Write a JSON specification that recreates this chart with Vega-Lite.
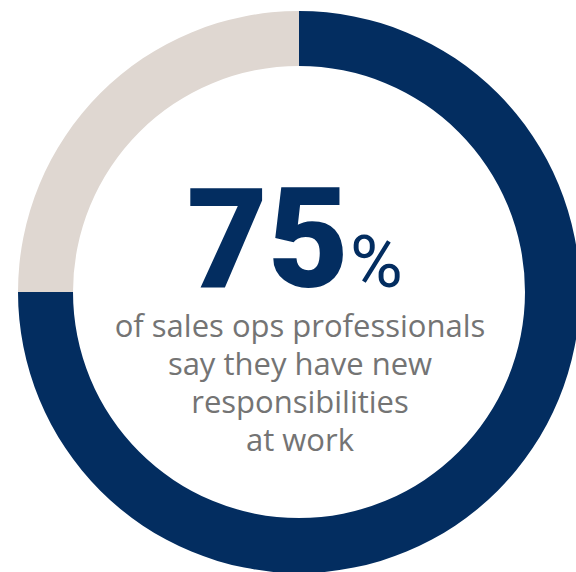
{
  "$schema": "https://vega.github.io/schema/vega-lite/v6.json",
  "autosize": {"type": "none"},
  "width": 554,
  "height": 560,
  "padding": {"left": 22, "top": 12, "right": 0, "bottom": 0},
  "background": "white",
  "config": {"view": {"stroke": null}},
  "layer": [
    {
      "data": {"values": [
        {"segment": "Have new responsibilities", "share": 75, "ord": 1},
        {"segment": "Other", "share": 25, "ord": 2}
      ]},
      "mark": {"type": "arc", "outerRadius": 281, "innerRadius": 226},
      "encoding": {
        "theta": {"field": "share", "type": "quantitative", "stack": true},
        "order": {"field": "ord", "type": "quantitative"},
        "color": {
          "field": "segment", "type": "nominal",
          "scale": {"domain": ["Have new responsibilities", "Other"], "range": ["#032D60", "#DFD7D1"]},
          "legend": null
        }
      }
    },
    {
      "data": {"values": [{"big": "75", "pct": "%", "body": "of sales ops professionals\nsay they have new\nresponsibilities\nat work"}]},
      "layer": [
        {
          "mark": {"type": "text", "font": "Roboto", "fontWeight": 900, "fontSize": 140, "color": "#032D60", "align": "right", "baseline": "alphabetic", "dx": 50, "dy": -5},
          "encoding": {"text": {"field": "big", "type": "nominal"}}
        },
        {
          "mark": {"type": "text", "font": "Roboto", "fontWeight": 400, "fontSize": 72, "color": "#032D60", "align": "left", "baseline": "alphabetic", "dx": 51, "dy": -5},
          "encoding": {"text": {"field": "pct", "type": "nominal"}}
        },
        {
          "mark": {"type": "text", "font": "Open Sans", "fontSize": 31, "color": "#747474", "align": "center", "baseline": "alphabetic", "dx": 1, "dy": 45, "lineBreak": "\n", "lineHeight": 38},
          "encoding": {"text": {"field": "body", "type": "nominal"}}
        }
      ]
    }
  ]
}
